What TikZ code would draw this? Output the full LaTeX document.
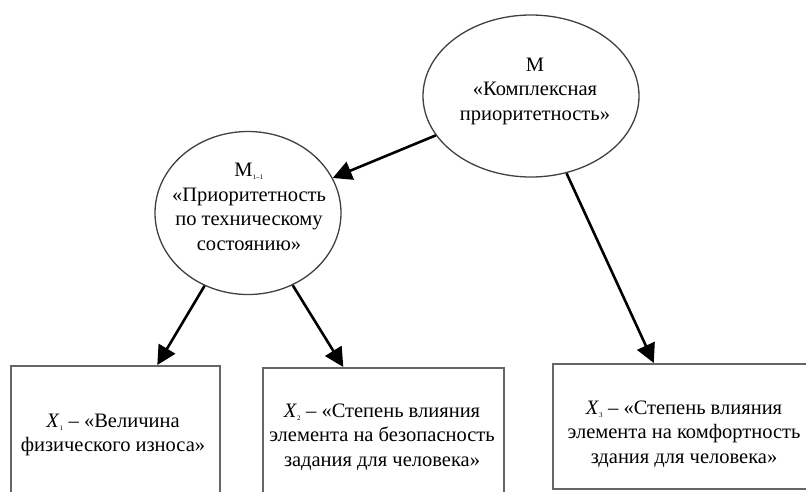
\documentclass[tikz,border=0pt]{standalone}
\usepackage{fontspec}
\setmainfont{Liberation Serif}
\usetikzlibrary{arrows.meta,shapes.geometric}
\tikzset{
  arr/.style={-{Triangle[length=19pt,width=19pt]}, line width=2.6pt},
  oval/.style={ellipse, draw=black!75, line width=1.3pt, inner sep=0pt},
  box/.style={rectangle, draw=black!60, line width=1.6pt, anchor=north west},
  boxtext/.style={align=center},
}
\newcommand\idx[1]{\textsubscript{\fontsize{7}{7}\selectfont #1}}

\begin{document}
\begin{tikzpicture}[x=1pt, y=-1pt, font=\fontsize{20.5}{24.5}\selectfont]
            \clip (0,0) rectangle (806,491);
            \node[oval, minimum width=216pt, minimum height=162pt] (M) at (531, 96) {};
            \node[oval, minimum width=186pt, minimum height=163pt] (M11) at (248, 213) {};
            \node[boxtext] (Mt) at (535, 91) {М\\«Комплексная\\приоритетность»};
            \node[boxtext] (M11t) at (249, 207) {М\idx{1–1}\\«Приоритетность\\по техническому\\состоянию»};

            \node[box, minimum width=209pt, minimum height=134pt] (X1) at (10, 365) {};
            \node[box, minimum width=241pt, minimum height=140pt] (X2) at (262, 367) {};
            \node[box, minimum width=264pt, minimum height=125pt] (X3) at (552, 363) {};
            \node[boxtext] (X1t) at (113, 435) {\textit{X}\idx{1} – «Величина\\физического износа»};
            \node[boxtext] (X2t) at (382, 437) {\textit{X}\idx{2} – «Степень влияния\\элемента на безопасность\\задания для человека»};
            \node[boxtext] (X3t) at (684, 434) {\textit{X}\idx{3} – «Степень влияния\\элемента на комфортность\\здания для человека»};

            \draw[arr] (M) -- (M11);
            \draw[arr] (M) -- ([xshift=-31pt]X3.north);
            \draw[arr] (M11) -- ([xshift=42pt]X1.north);
            \draw[arr] (M11) -- ([xshift=-40pt]X2.north);
\end{tikzpicture}
\end{document}
